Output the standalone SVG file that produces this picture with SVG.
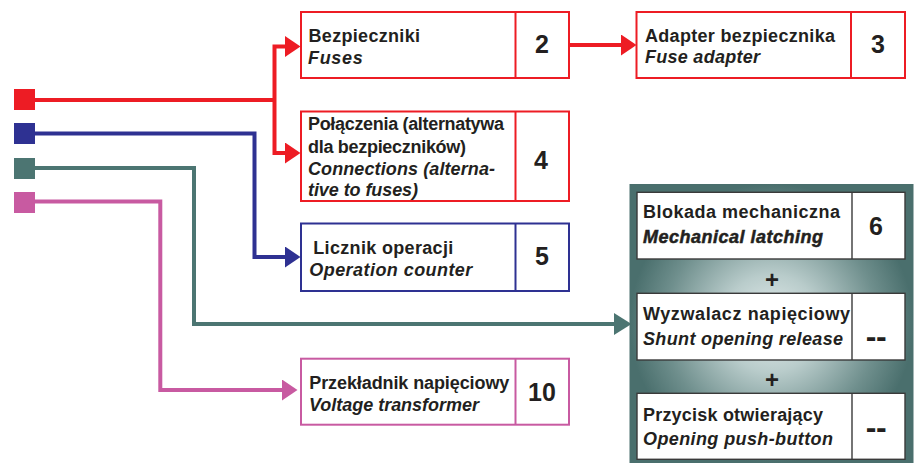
<svg xmlns="http://www.w3.org/2000/svg" width="917" height="463" viewBox="0 0 917 463">
  <defs>
    <style>
      .wire { fill: none; stroke-width: 4; stroke-linejoin: miter; }
      .red { stroke: #ed1c24; }
      .blue { stroke: #2e3192; }
      .teal { stroke: #4c7572; }
      .pink { stroke: #c85aa1; }
      .box { fill: #ffffff; stroke-width: 2; }
      .inner { fill: #ffffff; stroke: #3a3a3a; stroke-width: 1.4; }
      .t { font-family: "Liberation Sans", Arial, sans-serif; font-size: 18px; font-weight: bold; fill: #231f20; }
      .i { font-style: italic; }
      .b { stroke: #231f20; stroke-width: 0.5; }
      .num { font-family: "Liberation Sans", Arial, sans-serif; font-size: 25px; font-weight: bold; fill: #231f20; text-anchor: middle; }
      .dash { font-family: "Liberation Sans", Arial, sans-serif; font-size: 32px; font-weight: bold; fill: #231f20; text-anchor: middle; letter-spacing: -0.5px; }
      .plus { font-family: "Liberation Sans", Arial, sans-serif; font-size: 24px; font-weight: bold; fill: #231f20; text-anchor: middle; }
    </style>
    <marker id="arrRed" markerUnits="userSpaceOnUse" markerWidth="16" markerHeight="22" refX="0" refY="10.5" orient="auto">
      <path d="M0,0 L15.5,10.5 L0,21 Z" fill="#ed1c24"/>
    </marker>
    <marker id="arrBlue" markerUnits="userSpaceOnUse" markerWidth="16" markerHeight="22" refX="0" refY="10.5" orient="auto">
      <path d="M0,0 L15.5,10.5 L0,21 Z" fill="#2e3192"/>
    </marker>
    <marker id="arrTeal" markerUnits="userSpaceOnUse" markerWidth="18" markerHeight="23" refX="0" refY="11" orient="auto">
      <path d="M0,0 L17.5,11 L0,22 Z" fill="#4c7572"/>
    </marker>
    <marker id="arrPink" markerUnits="userSpaceOnUse" markerWidth="16" markerHeight="22" refX="0" refY="10.5" orient="auto">
      <path d="M0,0 L15.5,10.5 L0,21 Z" fill="#c85aa1"/>
    </marker>
    <radialGradient id="panelFill" cx="0.5" cy="0.5" r="0.5">
      <stop offset="0" stop-color="#e6eeee"/>
      <stop offset="0.35" stop-color="#b9cccb"/>
      <stop offset="0.75" stop-color="#6f8f8d"/>
      <stop offset="1" stop-color="#4a6f6d"/>
    </radialGradient>
  </defs>

  <!-- source terminals -->
  <g id="sources">
    <rect x="14" y="89" width="21" height="21" fill="#ed1c24"/>
    <rect x="14" y="123" width="21" height="21" fill="#2e3192"/>
    <rect x="14" y="158" width="21" height="21" fill="#4c7572"/>
    <rect x="14" y="192" width="21" height="21" fill="#c85aa1"/>
  </g>

  <!-- connectors -->
  <g id="connectors">
    <path class="wire red" d="M35,100 H274.5"/>
    <path class="wire red" d="M274.5,100 V46.5 H285" marker-end="url(#arrRed)"/>
    <path class="wire red" d="M274.5,100 V153 H285" marker-end="url(#arrRed)"/>
    <path class="wire red" d="M569,45 H621" marker-end="url(#arrRed)"/>
    <path class="wire blue" d="M35,133.5 H254.5 V257 H285" marker-end="url(#arrBlue)"/>
    <path class="wire teal" d="M35,168 H194 V324 H614" marker-end="url(#arrTeal)"/>
    <path class="wire pink" d="M35,201.5 H160.3 V390 H282" marker-end="url(#arrPink)"/>
  </g>

  <!-- Fuses -->
  <g id="node-fuses">
    <rect class="box" x="301" y="12" width="268" height="66" stroke="#ed1c24"/>
    <line x1="515.5" y1="12" x2="515.5" y2="78" stroke="#ed1c24" stroke-width="2"/>
    <text class="t" x="308.5" y="42.3" textLength="111.5">Bezpieczniki</text>
    <text class="t i" x="308" y="64" textLength="54.7">Fuses</text>
    <text class="num" x="542" y="53">2</text>
  </g>

  <!-- Fuse adapter -->
  <g id="node-fuse-adapter">
    <rect class="box" x="636.5" y="12" width="268.5" height="66" stroke="#ed1c24"/>
    <line x1="851" y1="12" x2="851" y2="78" stroke="#ed1c24" stroke-width="2"/>
    <text class="t" x="645" y="41.7" textLength="190">Adapter bezpiecznika</text>
    <text class="t i" x="645" y="63.3" textLength="115">Fuse adapter</text>
    <text class="num" x="878" y="53">3</text>
  </g>

  <!-- Connections -->
  <g id="node-connections">
    <rect class="box" x="301" y="111.5" width="268" height="89.5" stroke="#ed1c24"/>
    <line x1="515.5" y1="111.5" x2="515.5" y2="201" stroke="#ed1c24" stroke-width="2"/>
    <text class="t" x="308" y="130.3" textLength="196">Połączenia (alternatywa</text>
    <text class="t" x="308" y="152.5" textLength="158">dla bezpieczników)</text>
    <text class="t i" x="308" y="174.5" textLength="187">Connections (alterna-</text>
    <text class="t i" x="308" y="196" textLength="110">tive to fuses)</text>
    <text class="num" x="541" y="168.7">4</text>
  </g>

  <!-- Operation counter -->
  <g id="node-counter">
    <rect class="box" x="301" y="223.5" width="268" height="67.5" stroke="#2e3192"/>
    <line x1="515.5" y1="223.5" x2="515.5" y2="291" stroke="#2e3192" stroke-width="2"/>
    <text class="t" x="313.3" y="254.3" textLength="140">Licznik operacji</text>
    <text class="t i" x="309.3" y="275.5" textLength="163">Operation counter</text>
    <text class="num" x="542" y="265">5</text>
  </g>

  <!-- Voltage transformer -->
  <g id="node-transformer">
    <rect class="box" x="301" y="358.7" width="268" height="66" stroke="#c85aa1"/>
    <line x1="515.5" y1="358.7" x2="515.5" y2="424.7" stroke="#c85aa1" stroke-width="2"/>
    <text class="t" x="309.3" y="389.3" textLength="200">Przekładnik napięciowy</text>
    <text class="t i" x="309" y="411.3" textLength="170">Voltage transformer</text>
    <text class="num" x="542" y="401">10</text>
  </g>

  <!-- latching / release panel -->
  <g id="node-panel">
    <rect x="629.5" y="184" width="284" height="279" fill="url(#panelFill)"/>
    <g id="node-latching">
      <rect class="inner" x="637" y="192.3" width="268" height="66.7"/>
      <line x1="852" y1="192.3" x2="852" y2="259" stroke="#3a3a3a" stroke-width="1.4"/>
      <text class="t" x="643" y="218" textLength="197">Blokada mechaniczna</text>
      <text class="t i b" x="643" y="243.3" textLength="180">Mechanical latching</text>
      <text class="num" x="876" y="235">6</text>
    </g>
    <text class="plus" x="772" y="288">+</text>
    <g id="node-release">
      <rect class="inner" x="637" y="293.3" width="268" height="66.7"/>
      <line x1="852" y1="293.3" x2="852" y2="360" stroke="#3a3a3a" stroke-width="1.4"/>
      <text class="t" x="643" y="320" textLength="207">Wyzwalacz napięciowy</text>
      <text class="t i" x="643" y="345" textLength="200">Shunt opening release</text>
      <text class="dash" x="876" y="346.5">--</text>
    </g>
    <text class="plus" x="772" y="388">+</text>
    <g id="node-pushbutton">
      <rect class="inner" x="637" y="393.3" width="268" height="66"/>
      <line x1="852" y1="393.3" x2="852" y2="459.3" stroke="#3a3a3a" stroke-width="1.4"/>
      <text class="t" x="643" y="420.7" textLength="180">Przycisk otwierający</text>
      <text class="t i" x="643" y="445" textLength="190">Opening push-button</text>
      <text class="dash" x="876" y="438">--</text>
    </g>
  </g>
</svg>
